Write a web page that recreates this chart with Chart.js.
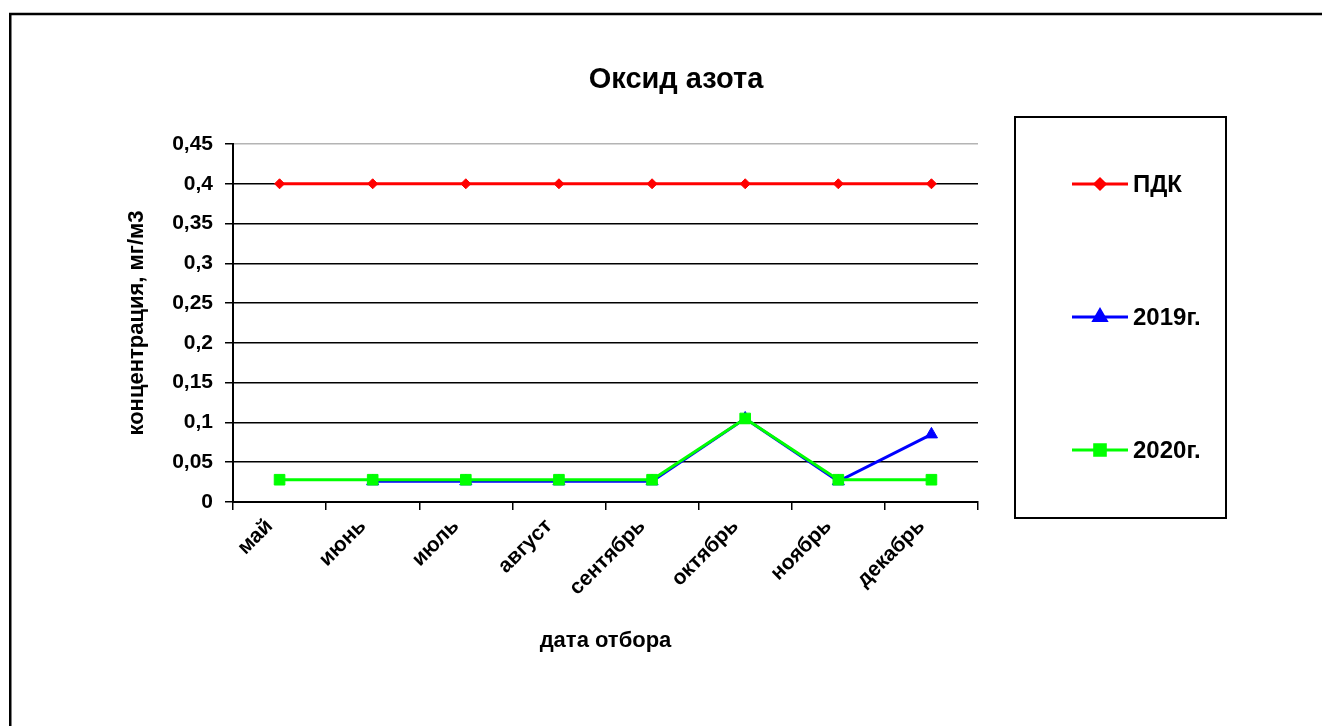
<!DOCTYPE html>
<html>
<head>
<meta charset="utf-8">
<script src="https://cdn.jsdelivr.net/npm/chart.js@4.4.1/dist/chart.umd.min.js"></script>
<style>
  html, body { margin: 0; padding: 0; background: #fff; }
  canvas { display: block; }
</style>
</head>
<body>
<canvas id="chart" width="1322" height="726"></canvas>
<script>
// data
const months = ['май', 'июнь', 'июль', 'август', 'сентябрь', 'октябрь', 'ноябрь', 'декабрь'];
const pdkValues = [0.4, 0.4, 0.4, 0.4, 0.4, 0.4, 0.4, 0.4];
const values2019 = [null, 0.026, 0.026, 0.026, 0.026, 0.105, 0.026, 0.085];
const values2020 = [0.028, 0.028, 0.028, 0.028, 0.028, 0.105, 0.028, 0.028];
const yTickLabels = ['0', '0,05', '0,1', '0,15', '0,2', '0,25', '0,3', '0,35', '0,4', '0,45'];
const seriesNames = ['ПДК', '2019г.', '2020г.'];

const FONT = '"Liberation Sans", Arial, sans-serif';

// frame, title and the boxed legend on the right
const decor = {
  id: 'decor',
  beforeDraw(chart) {
    const ctx = chart.ctx;
    ctx.save();
    ctx.fillStyle = '#fff';
    ctx.fillRect(0, 0, chart.width, chart.height);
    ctx.strokeStyle = '#000';
    ctx.lineWidth = 2.5;
    ctx.strokeRect(10.25, 14, 2000, 2000);
    ctx.restore();
  },
  afterDraw(chart) {
    const ctx = chart.ctx;
    ctx.save();
    ctx.fillStyle = '#000';
    ctx.font = 'bold 29px ' + FONT;
    ctx.textAlign = 'center';
    ctx.textBaseline = 'middle';
    ctx.fillText('Оксид азота', 676, 80);

    ctx.strokeStyle = '#000';
    ctx.lineWidth = 2;
    ctx.strokeRect(1015, 117, 211, 401);

    const rows = [184, 317, 450];
    chart.data.datasets.forEach((ds, i) => {
      const y = rows[i];
      ctx.strokeStyle = ds.borderColor;
      ctx.lineWidth = 3;
      ctx.beginPath();
      ctx.moveTo(1072, y);
      ctx.lineTo(1128, y);
      ctx.stroke();
      ctx.fillStyle = ds.borderColor;
      Chart.helpers.drawPoint(ctx, {
        pointStyle: ds.pointStyle, radius: ds.pointRadius, borderWidth: 1, rotation: 0
      }, 1100, y);
      ctx.fillStyle = '#000';
      ctx.font = 'bold 24px ' + FONT;
      ctx.textAlign = 'left';
      ctx.fillText(ds.label, 1133, y + 1);
    });
    ctx.restore();
  }
};

new Chart(document.getElementById('chart'), {
  type: 'line',
  data: {
    labels: months,
    datasets: [
      {
        label: seriesNames[0], data: pdkValues, order: 2,
        borderColor: '#ff0000', backgroundColor: '#ff0000',
        borderWidth: 3, pointStyle: 'rectRot', pointRadius: 5, pointBorderWidth: 1
      },
      {
        label: seriesNames[1], data: values2019, order: 1,
        borderColor: '#0000ff', backgroundColor: '#0000ff',
        borderWidth: 3, pointStyle: 'triangle', pointRadius: 7, pointBorderWidth: 1
      },
      {
        label: seriesNames[2], data: values2020, order: 0,
        borderColor: '#00ff00', backgroundColor: '#00ff00',
        borderWidth: 3, pointStyle: 'rect', pointRadius: 7.5, pointBorderWidth: 1
      }
    ]
  },
  options: {
    responsive: false,
    animation: false,
    devicePixelRatio: 1,
    layout: { padding: { left: 0, top: 144, right: 344, bottom: 0 } },
    plugins: {
      legend: { display: false },
      tooltip: { enabled: false }
    },
    scales: {
      x: {
        type: 'category',
        offset: true,
        afterFit: (s) => { s.height = 224; },
        grid: {
          display: true, drawOnChartArea: false, drawTicks: true,
          tickLength: 8, offset: true, color: '#000', lineWidth: 1.5
        },
        border: { display: true, color: '#000', width: 2 },
        ticks: {
          color: '#000', minRotation: 45, maxRotation: 45, padding: 4, labelOffset: -10,
          font: { family: FONT, size: 21, weight: 'bold' }
        },
        title: {
          display: true, text: 'дата отбора', color: '#000',
          font: { family: FONT, size: 22, weight: 'bold' },
          padding: { top: 0, bottom: 72 }
        }
      },
      y: {
        min: 0, max: 0.45,
        afterFit: (s) => { s.width = 233; },
        grid: {
          color: (c) => (c.tick && c.tick.value > 0.44 ? '#b4b4b4' : '#000'),
          tickColor: '#000',
          lineWidth: 1.5,
          tickLength: 8
        },
        border: { display: true, color: '#000', width: 2 },
        ticks: {
          stepSize: 0.05, color: '#000', padding: 12,
          font: { family: FONT, size: 21, weight: 'bold' },
          callback: (v, i) => yTickLabels[i]
        },
        title: {
          display: true, text: 'концентрация, мг/м3', color: '#000',
          font: { family: FONT, size: 22, weight: 'bold' },
          padding: { top: 124, bottom: 0 }
        }
      }
    }
  },
  plugins: [decor]
});
</script>
</body>
</html>
